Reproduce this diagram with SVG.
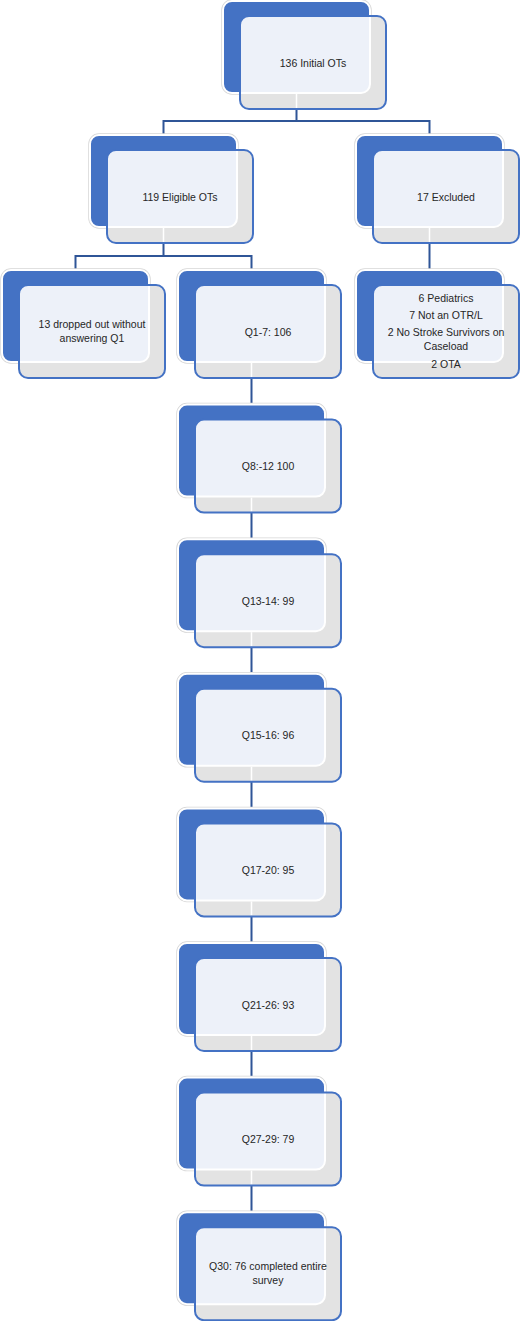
<svg xmlns="http://www.w3.org/2000/svg" xmlns:xlink="http://www.w3.org/1999/xlink" width="520" height="1321" viewBox="0 0 520 1321">
  <style>
    .lbl { font-family: "Liberation Sans", Arial, sans-serif; font-size: 10.5px; fill: #262626; text-anchor: middle; dominant-baseline: central; }
    .conn { fill: none; stroke: #2f5597; stroke-width: 2; }
    .ghost { stroke: #ffffff; stroke-width: 1.5; }
  </style>
  <defs>
    <clipPath id="frontClip">
      <rect x="17" y="15" width="146" height="93" rx="9"/>
    </clipPath>
    <g id="card">
      <rect x="0" y="0" width="147" height="92" rx="9" fill="none" stroke="#d6d6d6" stroke-width="3.5"/>
      <rect x="0" y="0" width="147" height="92" rx="9" fill="#4472c4" stroke="#ffffff" stroke-width="2"/>
      <rect x="17" y="15" width="146" height="93" rx="9" fill="#e3e3e3"/>
      <rect x="0" y="0" width="147" height="92" rx="9" fill="#edf1f9" stroke="#ffffff" stroke-width="2" clip-path="url(#frontClip)"/>
    </g>
    <rect id="cardEdge" x="17" y="15" width="146" height="93" rx="9" fill="none" stroke="#4472c4" stroke-width="2"/>
  </defs>
  <rect width="520" height="1321" fill="#ffffff"/>

  <g id="connectors">
    <path class="conn" d="M296.5 109 V121 M163.5 135 V121 H429.5 V135"/>
    <path class="conn" d="M163.5 243 V256 M75.5 270 V256 H251.5 V270"/>
    <path class="conn" d="M429.5 243 V270"/>
    <path class="conn" d="M251.5 378 V404.6 M251.5 512.6 V539.2 M251.5 647.2 V673.8 M251.5 781.8 V808.4 M251.5 916.4 V943 M251.5 1051 V1077.6 M251.5 1185.6 V1212.2"/>
  </g>

  <g id="n136" transform="translate(223,1)">
    <use xlink:href="#card"/>
    <line class="ghost" x1="73.5" y1="93" x2="73.5" y2="107"/>
    <use xlink:href="#cardEdge"/>
    <text class="lbl" x="90" y="61.5">136 Initial OTs</text>
  </g>

  <g id="n119" transform="translate(90,135)">
    <use xlink:href="#card"/>
    <line class="ghost" x1="73.5" y1="93" x2="73.5" y2="107"/>
    <use xlink:href="#cardEdge"/>
    <text class="lbl" x="90" y="61.5">119 Eligible OTs</text>
  </g>

  <g id="n17" transform="translate(356,135)">
    <use xlink:href="#card"/>
    <line class="ghost" x1="73.5" y1="93" x2="73.5" y2="107"/>
    <use xlink:href="#cardEdge"/>
    <text class="lbl" x="90" y="61.5">17 Excluded</text>
  </g>

  <g id="n13" transform="translate(2,270)">
    <use xlink:href="#card"/>
    <use xlink:href="#cardEdge"/>
    <text class="lbl" x="90" y="54">13 dropped out without</text>
    <text class="lbl" x="90" y="68">answering Q1</text>
  </g>

  <g id="nExcl" transform="translate(356,270)">
    <use xlink:href="#card"/>
    <use xlink:href="#cardEdge"/>
    <text class="lbl" x="90" y="28">6 Pediatrics</text>
    <text class="lbl" x="90" y="45">7 Not an OTR/L</text>
    <text class="lbl" x="90" y="62">2 No Stroke Survivors on</text>
    <text class="lbl" x="90" y="76">Caseload</text>
    <text class="lbl" x="90" y="94">2 OTA</text>
  </g>

  <g id="q1" transform="translate(178,270)">
    <use xlink:href="#card"/>
    <line class="ghost" x1="73.5" y1="93" x2="73.5" y2="107"/>
    <use xlink:href="#cardEdge"/>
    <text class="lbl" x="90" y="61.5">Q1-7: 106</text>
  </g>

  <g id="q8" transform="translate(178,404.6)">
    <use xlink:href="#card"/>
    <line class="ghost" x1="73.5" y1="93" x2="73.5" y2="107"/>
    <use xlink:href="#cardEdge"/>
    <text class="lbl" x="90" y="61.5">Q8:-12 100</text>
  </g>

  <g id="q13" transform="translate(178,539.2)">
    <use xlink:href="#card"/>
    <line class="ghost" x1="73.5" y1="93" x2="73.5" y2="107"/>
    <use xlink:href="#cardEdge"/>
    <text class="lbl" x="90" y="61.5">Q13-14: 99</text>
  </g>

  <g id="q15" transform="translate(178,673.8)">
    <use xlink:href="#card"/>
    <line class="ghost" x1="73.5" y1="93" x2="73.5" y2="107"/>
    <use xlink:href="#cardEdge"/>
    <text class="lbl" x="90" y="61.5">Q15-16: 96</text>
  </g>

  <g id="q17" transform="translate(178,808.4)">
    <use xlink:href="#card"/>
    <line class="ghost" x1="73.5" y1="93" x2="73.5" y2="107"/>
    <use xlink:href="#cardEdge"/>
    <text class="lbl" x="90" y="61.5">Q17-20: 95</text>
  </g>

  <g id="q21" transform="translate(178,943)">
    <use xlink:href="#card"/>
    <line class="ghost" x1="73.5" y1="93" x2="73.5" y2="107"/>
    <use xlink:href="#cardEdge"/>
    <text class="lbl" x="90" y="61.5">Q21-26: 93</text>
  </g>

  <g id="q27" transform="translate(178,1077.6)">
    <use xlink:href="#card"/>
    <line class="ghost" x1="73.5" y1="93" x2="73.5" y2="107"/>
    <use xlink:href="#cardEdge"/>
    <text class="lbl" x="90" y="61.5">Q27-29: 79</text>
  </g>

  <g id="q30" transform="translate(178,1212.2)">
    <use xlink:href="#card"/>
    <use xlink:href="#cardEdge"/>
    <text class="lbl" x="90" y="54">Q30: 76 completed entire</text>
    <text class="lbl" x="90" y="68">survey</text>
  </g>
</svg>
